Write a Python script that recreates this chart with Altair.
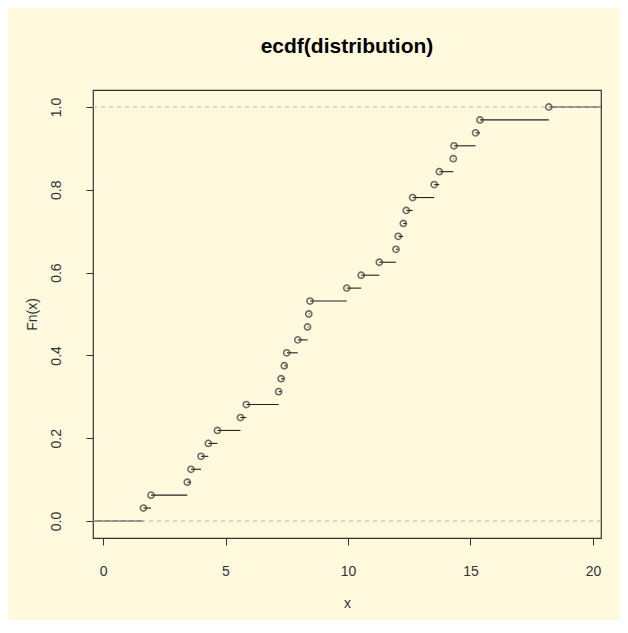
import altair as alt
import pandas as pd

xs = [1.65, 1.96, 3.44, 3.59, 4.00, 4.30, 4.67, 5.61, 5.85, 7.17,
      7.27, 7.40, 7.50, 7.95, 8.35, 8.40, 8.45, 9.95, 10.54, 11.28,
      11.96, 12.05, 12.26, 12.38, 12.64, 13.52, 13.73, 14.30, 14.33, 15.21,
      15.39, 18.20]
xlim = [-0.41, 20.33]
ylim = [-0.041, 1.041]
x_ticks = [0, 5, 10, 15, 20]
y_ticks = [0.0, 0.2, 0.4, 0.6, 0.8, 1.0]
ref_levels = [0, 1]

FONT = "Liberation Sans"
BG = "#FFF9DE"
INK = "#222222"

df = pd.DataFrame({"x": xs})
ext = pd.DataFrame({"x0": [xlim[0], xs[-1]], "x1": [xs[0], xlim[1]], "y": ref_levels})
refs = pd.DataFrame({"y": ref_levels})

xscale = alt.Scale(domain=xlim, nice=False, zero=False)
yscale = alt.Scale(domain=ylim, nice=False, zero=False)

xaxis = alt.Axis(values=x_ticks, format="d", title="x", grid=False, domain=False,
                 tickColor="#333333", tickSize=7, tickWidth=1,
                 labelFont=FONT, labelFontSize=14, labelColor="#333333",
                 labelBaseline="middle", labelPadding=26,
                 titleFont=FONT, titleFontSize=14, titleFontWeight="normal",
                 titleColor="#333333", titleY=65, titleBaseline="middle")
yaxis = alt.Axis(values=y_ticks, format=".1f", title="Fn(x)", grid=False, domain=False,
                 tickColor="#333333", tickSize=7, tickWidth=1,
                 labelFont=FONT, labelFontSize=14, labelColor="#333333",
                 labelAngle=270, labelAlign="center", labelBaseline="middle",
                 labelPadding=30,
                 titleFont=FONT, titleFontSize=14, titleFontWeight="normal",
                 titleColor="#333333", titleAngle=270, titleX=-61, titleY=224,
                 titleAlign="center", titleBaseline="middle")

base = alt.Chart(df).transform_window(
    Fn="cume_dist()", sort=[alt.SortField("x")]
).transform_window(
    xn="lead(x)", sort=[alt.SortField("x")]
)

steps = base.transform_filter("datum.xn != null").mark_rule(
    color=INK, strokeWidth=1.1
).encode(
    x=alt.X("x:Q", scale=xscale, axis=xaxis),
    x2="xn:Q",
    y=alt.Y("Fn:Q", scale=yscale, axis=yaxis),
)

ends = alt.Chart(ext).mark_rule(color=INK, strokeWidth=1.1).encode(
    x=alt.X("x0:Q", scale=xscale),
    x2="x1:Q",
    y=alt.Y("y:Q", scale=yscale),
)

dashed = alt.Chart(refs).mark_rule(
    color="#B3B3B3", strokeWidth=1.1, strokeDash=[4, 4]
).encode(y=alt.Y("y:Q", scale=yscale))

points = base.mark_point(
    shape="circle", filled=False, size=38, stroke="#333333", strokeWidth=1.6
).encode(
    x=alt.X("x:Q", scale=xscale),
    y=alt.Y("Fn:Q", scale=yscale),
)

chart = alt.layer(steps, ends, dashed, points).properties(
    width=508,
    height=448,
    background=BG,
    padding={"left": 85, "top": 82, "right": 19, "bottom": 82},
    autosize=alt.AutoSizeParams(type="none"),
    title=alt.TitleParams(
        "ecdf(distribution)", font=FONT, fontSize=21, fontWeight="bold",
        color="#000000", anchor="middle", frame="group", offset=16,
        baseline="alphabetic",
    ),
).configure_view(stroke="#333333", strokeWidth=1.2)

chart.save("out.html", embed_options={"renderer": "svg", "actions": False})
